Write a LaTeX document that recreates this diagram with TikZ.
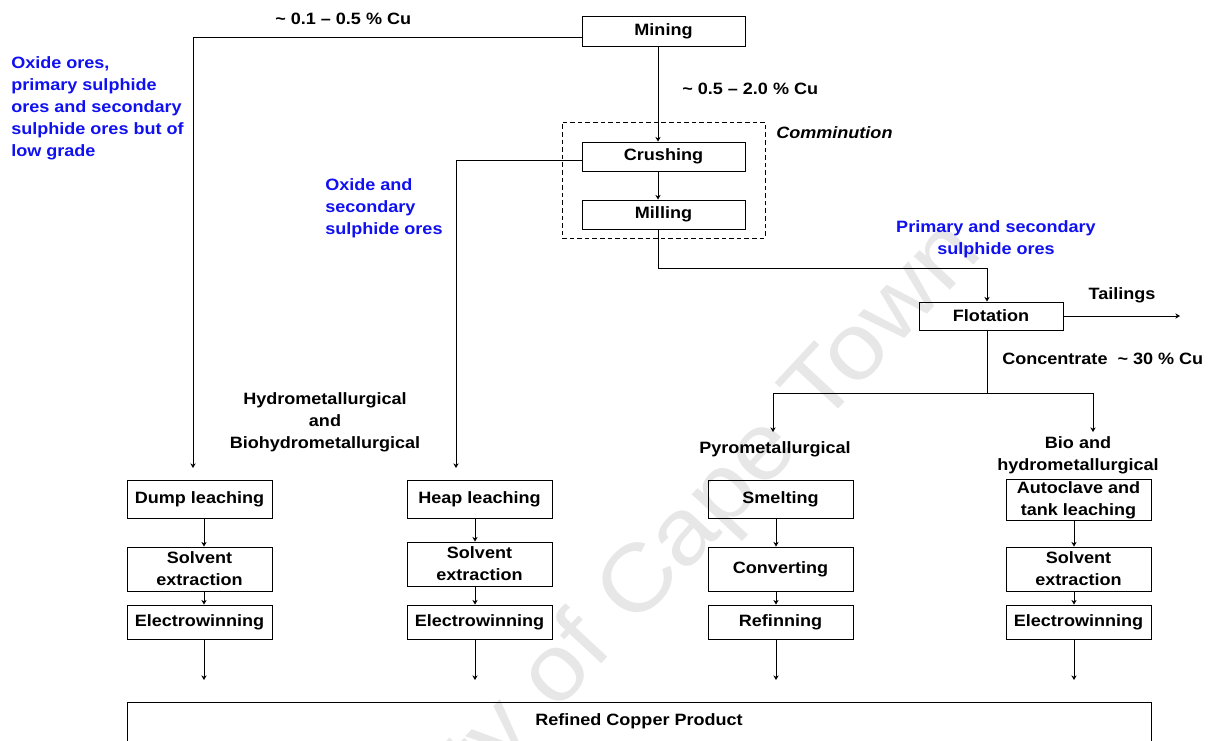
\documentclass[tikz,border=0pt]{standalone}
\usepackage{fontspec}
\setmainfont{Liberation Sans}[FakeStretch=1.1]
\newfontfamily\wmfont{Liberation Sans}[FakeStretch=1.1]
\usetikzlibrary{arrows.meta}
\definecolor{oreblue}{RGB}{16,16,240}
\definecolor{wmgray}{RGB}{231,231,231}
\newcommand{\lblfont}{\fontsize{12.3}{16.5}\selectfont\bfseries}
\begin{document}
\begin{tikzpicture}[x=0.75pt,y=-0.75pt,
  box/.style={draw, line width=0.7pt, inner sep=0pt, align=center, font=\lblfont, minimum width=108.75pt},
  lbl/.style={align=center, inner sep=0pt, font=\lblfont},
  orenote/.style={align=left, inner sep=0pt, text=oreblue, font=\lblfont},
  flow/.style={-{Stealth[length=3.5pt,width=4pt]}, line width=0.7pt},
  link/.style={line width=0.7pt}]
\useasboundingbox (0,0) rectangle (1212,740);

% watermark
\node[text=wmgray, font=\wmfont\fontsize{70}{70}\selectfont, rotate=47, anchor=base] (wm) at (607,658) {University of Cape Town};

% mining and comminution
\node[box, minimum width=122.25pt, minimum height=22.5pt] (mining) at (663.5,31) {Mining};
\node[draw, dashed, dash pattern=on 3.5pt off 2.2pt, line width=0.6pt, minimum width=152.25pt, minimum height=87pt, inner sep=0pt] (comm) at (663.5,180) {};
\node[box, minimum width=122.25pt, minimum height=21.75pt] (crush) at (663.5,156.5) {Crushing};
\node[box, minimum width=122.25pt, minimum height=21.75pt] (mill) at (663.5,214.5) {Milling};
\node[lbl, font=\lblfont\itshape, anchor=west] (commlbl) at (776,133) {Comminution};
\node[box, minimum width=108pt, minimum height=21pt] (flot) at (991,316) {Flotation};

% grade labels and ore notes
\node[lbl, anchor=west] (g1) at (275,19) {\textasciitilde{} 0.1 -- 0.5 \% Cu};
\node[lbl, anchor=west] (g2) at (682,89) {\textasciitilde{} 0.5 -- 2.0 \% Cu};
\node[lbl, anchor=west] (g3) at (1002,359) {Concentrate\ \ \textasciitilde{} 30 \% Cu};
\node[lbl] (tail) at (1122,295) {Tailings};
\node[orenote, anchor=west] (ore1) at (11,108.5) {Oxide ores,\\primary sulphide\\ores and secondary\\sulphide ores but of\\low grade};
\node[orenote, anchor=west] (ore2) at (325,208.5) {Oxide and\\secondary\\sulphide ores};
\node[orenote, align=center] (ore3) at (996,239) {Primary and secondary\\sulphide ores};
\node[lbl] (hydro) at (325,422.5) {Hydrometallurgical\\and\\Biohydrometallurgical};
\node[lbl] (pyro) at (775,449) {Pyrometallurgical};
\node[lbl] (bio) at (1078,455.5) {Bio and\\hydrometallurgical};

% process columns
\node[box, minimum height=28.5pt] (dump) at (199.5,499) {Dump leaching};
\node[box, minimum height=33pt] (sx1) at (199.5,569) {Solvent\\extraction};
\node[box, minimum height=25.5pt] (ew1) at (199.5,622) {Electrowinning};
\node[box, minimum height=28.5pt] (heap) at (479.5,499) {Heap leaching};
\node[box, minimum height=33pt] (sx2) at (479.5,564) {Solvent\\extraction};
\node[box, minimum height=25.5pt] (ew2) at (479.5,622) {Electrowinning};
\node[box, minimum height=28.5pt] (smelt) at (780.5,499) {Smelting};
\node[box, minimum height=33pt] (conv) at (780.5,569) {Converting};
\node[box, minimum height=25.5pt] (refin) at (780.5,622) {Refinning};
\node[box, minimum height=30.75pt] (auto) at (1078.5,500) {Autoclave and\\tank leaching};
\node[box, minimum height=33pt] (sx4) at (1078.5,569) {Solvent\\extraction};
\node[box, minimum height=25.5pt] (ew4) at (1078.5,622) {Electrowinning};

% product
\node[box, minimum width=768pt, minimum height=36pt] (product) at (639,726) {};
\node[lbl] (prodlbl) at (639,721) {Refined Copper Product};

% connector guide points
\coordinate (trunk) at (658,0);
\coordinate (dumpin) at (193,468);
\coordinate (heapin) at (456,468);
\coordinate (mturn) at (658,268);
\coordinate (flotx) at (987,0);
\coordinate (split) at (987,393);
\coordinate (pyroin) at (773,432);
\coordinate (bioin) at (1093,432);
\coordinate (tailend) at (1180,316);
\coordinate (c1) at (204,680);
\coordinate (c2) at (475,680);
\coordinate (c3) at (776,680);
\coordinate (c4) at (1074,680);

% connectors
\draw[flow] (mining.south -| trunk) -- (crush.north -| trunk);
\draw[flow] (crush.south -| trunk) -- (mill.north -| trunk);
\draw[flow] ([yshift=-4.5pt]mining.west) -| (dumpin);
\draw[flow] ([yshift=-2.6pt]crush.west) -| (heapin);
\draw[link] (mill.south -| trunk) -- (mturn);
\draw[flow] (mturn) -| (flot.north -| flotx);
\draw[flow] (flot.east) -- (tailend);
\draw[link] (flot.south -| flotx) -- (split);
\draw[flow] (split) -| (pyroin);
\draw[flow] (split) -| (bioin);

\draw[flow] (dump.south -| c1) -- (sx1.north -| c1);
\draw[flow] (sx1.south -| c1) -- (ew1.north -| c1);
\draw[flow] (ew1.south -| c1) -- (c1);
\draw[flow] (heap.south -| c2) -- (sx2.north -| c2);
\draw[flow] (sx2.south -| c2) -- (ew2.north -| c2);
\draw[flow] (ew2.south -| c2) -- (c2);
\draw[flow] (smelt.south -| c3) -- (conv.north -| c3);
\draw[flow] (conv.south -| c3) -- (refin.north -| c3);
\draw[flow] (refin.south -| c3) -- (c3);
\draw[flow] (auto.south -| c4) -- (sx4.north -| c4);
\draw[flow] (sx4.south -| c4) -- (ew4.north -| c4);
\draw[flow] (ew4.south -| c4) -- (c4);
\end{tikzpicture}
\end{document}
